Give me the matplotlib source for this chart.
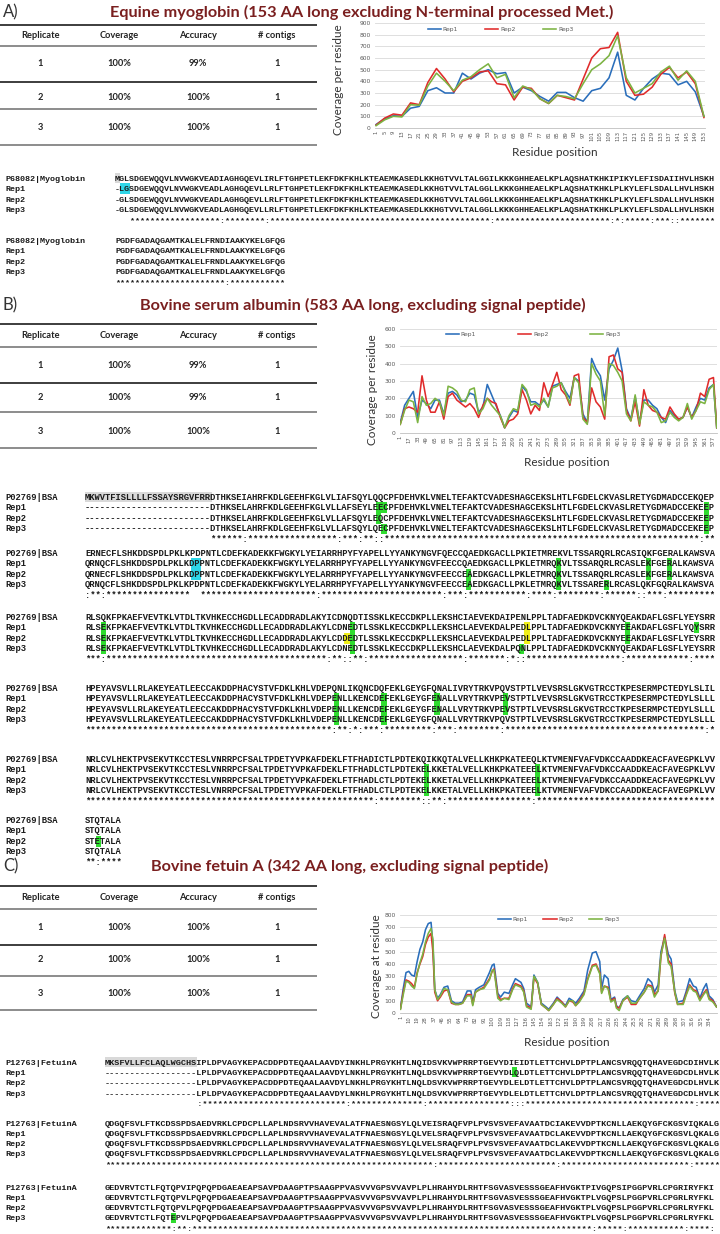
import matplotlib.pyplot as plt
from matplotlib.patches import Rectangle
import numpy as np

######### chart data
########################################
REPS = ["Rep1", "Rep2", "Rep3"]

# A) equine myoglobin coverage, sampled every 4 residues
mb_pos = list(range(1, 154, 4))
mb_rep1 = [30, 80, 105, 100, 170, 185, 320, 345, 300, 300,
           470, 420, 470, 500, 465, 475, 300, 350, 320, 270,
           230, 305, 305, 260, 230, 320, 340, 430, 650, 280,
           240, 340, 420, 470, 460, 370, 400, 310, 100]
mb_rep2 = [25, 85, 120, 110, 215, 200, 390, 510, 420, 310,
           400, 430, 480, 490, 380, 370, 240, 350, 340, 250,
           210, 280, 260, 240, 420, 600, 680, 690, 820, 400,
           280, 290, 350, 460, 520, 430, 480, 380, 90]
mb_rep3 = [20, 70, 100, 95, 200, 195, 360, 470, 400, 320,
           410, 440, 500, 550, 430, 460, 260, 360, 330, 250,
           210, 280, 270, 250, 380, 500, 550, 620, 790, 430,
           300, 340, 380, 480, 530, 410, 490, 400, 100]

# B) BSA coverage, sampled every 8 residues
bsa_pos = list(range(1, 578, 8)) + [583]
bsa_rep1 = [60, 160, 200, 240, 90, 190, 170, 140, 190, 190,
            110, 230, 240, 220, 180, 190, 230, 220, 120, 150,
            280, 220, 160, 100, 30, 90, 130, 120, 270, 240,
            180, 180, 160, 190, 150, 270, 280, 290, 240, 200,
            320, 300, 110, 60, 430, 370, 330, 190, 370, 420,
            490, 360, 140, 80, 210, 60, 190, 190, 160, 140,
            90, 60, 130, 100, 80, 90, 150, 90, 150, 200,
            190, 260, 280, 30]
bsa_rep2 = [50, 140, 150, 140, 120, 330, 190, 120, 120, 180,
            80, 210, 230, 190, 170, 150, 170, 140, 90, 160,
            200, 180, 170, 90, 30, 70, 80, 110, 250, 190,
            110, 160, 130, 290, 210, 280, 350, 250, 220, 160,
            330, 340, 90, 60, 260, 180, 150, 80, 440, 450,
            370, 350, 130, 70, 180, 40, 250, 160, 130, 120,
            90, 80, 150, 110, 80, 90, 150, 90, 130, 230,
            210, 310, 320, 30]
bsa_rep3 = [50, 130, 190, 180, 60, 210, 160, 170, 200, 180,
            100, 270, 260, 240, 190, 180, 250, 260, 110, 140,
            200, 160, 130, 100, 30, 100, 140, 130, 280, 250,
            160, 170, 150, 200, 150, 260, 270, 290, 230, 170,
            320, 290, 80, 50, 400, 340, 300, 100, 400, 390,
            350, 300, 110, 70, 220, 50, 180, 160, 150, 120,
            60, 70, 120, 90, 70, 90, 170, 80, 130, 180,
            170, 250, 280, 30]

# C) fetuin A coverage
fet_pos = [1, 4, 7, 10, 13, 16, 19, 22, 25, 28,
           31, 34, 36, 38, 41, 44, 48, 52, 56, 60,
           64, 68, 73, 77, 79, 82, 86, 91, 97, 100,
           102, 106, 109, 113, 118, 122, 125, 131, 134, 137,
           142, 145, 149, 153, 158, 161, 166, 170, 175, 179,
           183, 187, 190, 194, 199, 203, 208, 212, 216, 218,
           221, 225, 228, 232, 234, 237, 241, 246, 250, 255,
           259, 264, 268, 272, 275, 279, 282, 286, 290, 293,
           297, 300, 306, 309, 313, 317, 320, 324, 328, 331,
           334, 338, 342]
fet_rep1 = [40, 200, 330, 340, 310, 300, 420, 520, 580, 680,
            730, 740, 560, 190, 120, 150, 210, 220, 100, 80,
            80, 90, 180, 180, 90, 190, 210, 230, 330, 390,
            400, 160, 130, 170, 160, 230, 280, 250, 200, 80,
            50, 310, 250, 80, 50, 30, 80, 130, 90, 60,
            120, 100, 80, 120, 180, 350, 490, 500, 420, 200,
            310, 280, 110, 130, 60, 40, 110, 140, 100, 90,
            140, 200, 280, 250, 170, 230, 500, 620, 480, 440,
            180, 90, 100, 170, 280, 220, 210, 120, 200, 240,
            140, 110, 50]
fet_rep2 = [35, 170, 270, 260, 240, 210, 330, 400, 460, 560,
            620, 650, 500, 170, 100, 130, 180, 190, 80, 70,
            70, 80, 150, 150, 70, 170, 190, 210, 280, 340,
            360, 140, 110, 120, 120, 200, 240, 220, 180, 60,
            40, 290, 240, 70, 40, 20, 70, 120, 90, 50,
            100, 90, 60, 100, 160, 280, 390, 400, 330, 170,
            220, 210, 100, 120, 50, 40, 100, 130, 70, 70,
            120, 170, 230, 220, 150, 180, 460, 640, 430, 400,
            160, 70, 80, 150, 230, 190, 180, 110, 160, 190,
            120, 100, 50]
fet_rep3 = [30, 150, 260, 250, 220, 200, 320, 410, 480, 580,
            650, 690, 600, 190, 110, 140, 200, 190, 90, 70,
            70, 80, 140, 140, 60, 170, 190, 200, 270, 350,
            350, 120, 100, 120, 110, 190, 230, 210, 170, 50,
            30, 300, 250, 70, 40, 20, 70, 110, 80, 50,
            100, 100, 60, 90, 150, 270, 380, 390, 320, 160,
            220, 200, 90, 110, 40, 20, 100, 140, 80, 80,
            120, 170, 220, 210, 130, 180, 470, 610, 410, 380,
            170, 70, 70, 140, 220, 180, 170, 100, 150, 180,
            110, 90, 50]

######### table data
########################################
table_header = ["Replicate", "Coverage", "Accuracy", "# contigs"]
table_A = [["1", "100%", "99%", "1"], ["2", "100%", "100%", "1"], ["3", "100%", "100%", "1"]]
table_B = [["1", "100%", "99%", "1"], ["2", "100%", "99%", "1"], ["3", "100%", "100%", "1"]]
table_C = [["1", "100%", "100%", "1"], ["2", "100%", "100%", "1"], ["3", "100%", "100%", "1"]]

######### alignments (one list of 4 lines per block)
########################################
mb_names = ["P68082|Myoglobin", "Rep1", "Rep2", "Rep3"]
mb_blocks = [
    ["MGLSDGEWQQVLNVWGKVEADIAGHGQEVLIRLFTGHPETLEKFDKFKHLKTEAEMKASEDLKKHGTVVLTALGGILKKKGHHEAELKPLAQSHATKHKIPIKYLEFISDAIIHVLHSKH",
     "-LGSDGEWQQVLNVWGKVEADLAGHGQEVLLRLFTGHPETLEKFDKFKHLKTEAEMKASEDLKKHGTVVLTALGGLLKKKGHHEAELKPLAQSHATKHKLPLKYLEFLSDALLHVLHSKH",
     "-GLSDGEWQQVLNVWGKVEADLAGHGQEVLLRLFTGHPETLEKFDKFKHLKTEAEMKASEDLKKHGTVVLTALGGLLKKKGHHEAELKPLAQSHATKHKLPLKYLEFLSDALLHVLHSKH",
     "-GLSDGEWQQVLNVWGKVEADLAGHGQEVLLRLFTGHPETLEKFDKFKHLKTEAEMKASEDLKKHGTVVLTALGGLLKKKGHHEAELKPLAQSHATKHKLPLKYLEFLSDALLHVLHSKH"],
    ["PGDFGADAQGAMTKALELFRNDIAAKYKELGFQG",
     "PGDFGADAQGAMTKALELFRNDLAAKYKELGFQG",
     "PGDFGADAQGAMTKALELFRNDLAAKYKELGFQG",
     "PGDFGADAQGAMTKALELFRNDLAAKYKELGFQG"],
]
# (block, row, first column, n columns, colour key)
mb_marks = [(0, 0, 0, 1, "gray"), (0, 1, 1, 2, "cyan")]

bsa_names = ["P02769|BSA", "Rep1", "Rep2", "Rep3"]
bsa_gap = "------------------------"
bsa_b4 = "NRLCVLHEKTPVSEKVTKCCTESLVNRRPCFSALTPDETYVPKAFDEKLFTFHADLCTLPDTEKELKKETALVELLKHKPKATEEELKTVMENFVAFVDKCCAADDKEACFAVEGPKLVV"
bsa_b3 = "HPEYAVSVLLRLAKEYEATLEECCAKDDPHACYSTVFDKLKHLVDEPENLLKENCDEFEKLGEYGFENALLVRYTRKVPEVSTPTLVEVSRSLGKVGTRCCTKPESERMPCTEDYLSLLL"
bsa_blocks = [
    ["MKWVTFISLLLLFSSAYSRGVFRRDTHKSEIAHRFKDLGEEHFKGLVLIAFSQYLQQCPFDEHVKLVNELTEFAKTCVADESHAGCEKSLHTLFGDELCKVASLRETYGDMADCCEKQEP",
     bsa_gap + "DTHKSELAHRFKDLGEEHFKGLVLLAFSEYLEECPFDEHVKLVNELTEFAKTCVADESHAGCEKSLHTLFGDELCKVASLRETYGDMADCCEKEEP",
     bsa_gap + "DTHKSELAHRFKDLGEEHFKGLVLLAFSQYLEQCPFDEHVKLVNELTEFAKTCVADESHAGCEKSLHTLFGDELCKVASLRETYGDMADCCEKEEP",
     bsa_gap + "DTHKSELAHRFKDLGEEHFKGLVLLAFSQYLQECPFDEHVKLVNELTEFAKTCVADESHAGCEKSLHTLFGDELCKVASLRETYGDMADCCEKEEP"],
    ["ERNECFLSHKDDSPDLPKLKPDPNTLCDEFKADEKKFWGKYLYEIARRHPYFYAPELLYYANKYNGVFQECCQAEDKGACLLPKIETMREKVLTSSARQRLRCASIQKFGERALKAWSVA",
     "QRNQCFLSHKDDSPDLPKLKDPPNTLCDEFKADEKKFWGKYLYELARRHPYFYAPELLYYANKYNGVFEECCQAEDKGACLLPKLETMRQKVLTSSARQRLRCASLEKFGERALKAWSVA",
     "QRNECFLSHKDDSPDLPKLKDPPNTLCDEFKADEKKFWGKYLYELARRHPYFYAPELLYYANKYNGVFEECCEAEDKGACLLPKLETMRQKVLTSSARQRLRCASLEKFGERALKAWSVA",
     "QRNQCFLSHKDDSPDLPKLKPDPNTLCDEFKADEKKFWGKYLYELARRHPYFYAPELLYYANKYNGVFEECCEAEDKGACLLPKLETMRQKVLTSSARERLRCASLQKFGQRALKAWSVA"],
    ["RLSQKFPKAEFVEVTKLVTDLTKVHKECCHGDLLECADDRADLAKYICDNQDTISSKLKECCDKPLLEKSHCIAEVEKDAIPENLPPLTADFAEDKDVCKNYQEAKDAFLGSFLYEYSRR",
     "RLSEKFPKAEFVEVTKLVTDLTKVHKECCHGDLLECADDRADLAKYLCDNEDTLSSKLKECCDKPLLEKSHCLAEVEKDALPEDLPPLTADFAEDKDVCKNYEEAKDAFLGSFLYQYSRR",
     "RLSEKFPKAEFVEVTKLVTDLTKVHKECCHGDLLECADDRADLAKYLCDDEDTLSSKLKECCDKPLLEKSHCLAEVEKDALPEDLPPLTADFAEDKDVCKNYEEAKDAFLGSFLYEYSRR",
     "RLSEKFPKAEFVEVTKLVTDLTKVHKECCHGDLLECADDRADLAKYLCDNEDTLSSKLKECCDKPLLEKSHCLAEVEKDALPQNLPPLTADFAEDKDVCKNYQEAKDAFLGSFLYEYSRR"],
    ["HPEYAVSVLLRLAKEYEATLEECCAKDDPHACYSTVFDKLKHLVDEPQNLIKQNCDQFEKLGEYGFQNALIVRYTRKVPQVSTPTLVEVSRSLGKVGTRCCTKPESERMPCTEDYLSLIL",
     bsa_b3,
     bsa_b3,
     "HPEYAVSVLLRLAKEYEATLEECCAKDDPHACYSTVFDKLKHLVDEPENLLKENCDEFEKLGEYGFQNALLVRYTRKVPQVSTPTLVEVSRSLGKVGTRCCTKPESERMPCTEDYLSLLL"],
    ["NRLCVLHEKTPVSEKVTKCCTESLVNRRPCFSALTPDETYVPKAFDEKLFTFHADICTLPDTEKQIKKQTALVELLKHKPKATEEQLKTVMENFVAFVDKCCAADDKEACFAVEGPKLVV",
     bsa_b4, bsa_b4, bsa_b4],
    ["STQTALA", "STQTALA", "STETALA", "STQTALA"],
]
bsa_marks = [(0, 0, 0, 24, "gray"), (0, 1, 55, 2, "green"), (0, 2, 55, 1, "green"), (0, 3, 56, 1, "green"),
             (0, 1, 117, 1, "green"), (0, 2, 117, 1, "green"), (0, 3, 117, 1, "green"),
             (1, 1, 20, 2, "cyan"), (1, 2, 20, 2, "cyan"), (1, 2, 72, 1, "green"), (1, 3, 72, 1, "green"),
             (1, 1, 89, 1, "green"), (1, 2, 89, 1, "green"), (1, 3, 89, 1, "green"), (1, 3, 98, 1, "green"),
             (1, 1, 106, 1, "green"), (1, 2, 106, 1, "green"), (1, 1, 110, 1, "green"), (1, 2, 110, 1, "green"),
             (2, 1, 3, 1, "green"), (2, 2, 3, 1, "green"), (2, 3, 3, 1, "green"),
             (2, 1, 50, 1, "green"), (2, 2, 49, 1, "yellow"), (2, 2, 50, 1, "green"), (2, 3, 50, 1, "green"),
             (2, 1, 83, 1, "yellow"), (2, 2, 83, 1, "yellow"), (2, 3, 82, 1, "green"),
             (2, 1, 102, 1, "green"), (2, 2, 102, 1, "green"), (2, 1, 115, 1, "green"),
             (3, 1, 47, 1, "green"), (3, 2, 47, 1, "green"), (3, 3, 47, 1, "green"),
             (3, 1, 56, 1, "green"), (3, 2, 56, 1, "green"), (3, 3, 56, 1, "green"),
             (3, 1, 66, 1, "green"), (3, 2, 66, 1, "green"), (3, 1, 79, 1, "green"), (3, 2, 79, 1, "green"),
             (4, 1, 64, 1, "green"), (4, 2, 64, 1, "green"), (4, 3, 64, 1, "green"),
             (4, 1, 85, 1, "green"), (4, 2, 85, 1, "green"), (4, 3, 85, 1, "green"),
             (5, 2, 2, 1, "green")]

fet_names = ["P12763|FetuinA", "Rep1", "Rep2", "Rep3"]
fet_gap = "------------------"
fet_b1 = "QDGQFSVLFTKCDSSPDSAEDVRKLCPDCPLLAPLNDSRVVHAVEVALATFNAESNGSYLQLVELSRAQFVPLPVSVSVEFAVAATDCLAKEVVDPTKCNLLAEKQYGFCKGSVLQKALG"
fet_b2 = "GEDVRVTCTLFQTQPVLPQPQPDGAEAEAPSAVPDAAGPTPSAAGPPVASVVVGPSVVAVPLPLHRAHYDLRHTFSGVASVESSSGEAFHVGKTPLVGQPSLPGGPVRLCPGRLRYFKL"
fet_blocks = [
    ["MKSFVLLFCLAQLWGCHSIPLDPVAGYKEPACDDPDTEQAALAAVDYINKHLPRGYKHTLNQIDSVKVWPRRPTGEVYDIEIDTLETTCHVLDPTPLANCSVRQQTQHAVEGDCDIHVLK",
     fet_gap + "LPLDPVAGYKEPACDDPDTEQAALAAVDYLNKHLPRGYKHTLNQLDSVKVWPRRPTGEVYDLQLDTLETTCHVLDPTPLANCSVRQQTQHAVEGDCDLHVLK",
     fet_gap + "LPLDPVAGYKEPACDDPDTEQAALAAVDYLNKHLPRGYKHTLNQLDSVKVWPRRPTGEVYDLELDTLETTCHVLDPTPLANCSVRQQTQHAVEGDCDLHVLK",
     fet_gap + "LPLDPVAGYKEPACDDPDTEQAALAAVDYLNKHLPRGYKHTLNQLDSVKVWPRRPTGEVYDLELDTLETTCHVLDPTPLANCSVRQQTQHAVEGDCDLHVLK"],
    ["QDGQFSVLFTKCDSSPDSAEDVRKLCPDCPLLAPLNDSRVVHAVEVALATFNAESNGSYLQLVEISRAQFVPLPVSVSVEFAVAATDCIAKEVVDPTKCNLLAEKQYGFCKGSVIQKALG",
     fet_b1, fet_b1, fet_b1],
    ["GEDVRVTCTLFQTQPVIPQPQPDGAEAEAPSAVPDAAGPTPSAAGPPVASVVVGPSVVAVPLPLHRAHYDLRHTFSGVASVESSSGEAFHVGKTPIVGQPSIPGGPVRLCPGRIRYFKI",
     fet_b2, fet_b2,
     "GEDVRVTCTLFQTEPVLPQPQPDGAEAEAPSAVPDAAGPTPSAAGPPVASVVVGPSVVAVPLPLHRAHYDLRHTFSGVASVESSSGEAFHVGKTPLVGQPSLPGGPVRLCPGRLRYFKL"],
]
fet_marks = [(0, 0, 0, 18, "gray"), (0, 1, 80, 1, "green"), (2, 3, 13, 1, "green")]

######### style
########################################
W, H = 720, 1234
TITLE_COL = "#7a1f1f"
REP_COLORS = ["#2a6ebb", "#e02b2b", "#7cb342"]
MARK_COLORS = {"gray": "#d9d9d9", "cyan": "#2ed6e8", "green": "#2fdc2f", "yellow": "#f0ef1a"}
AXIS_TXT = "#595959"

fig = plt.figure(figsize=(7.2, 12.34), dpi=100)
ax0 = fig.add_axes([0, 0, 1, 1])
ax0.set_xlim(0, W)
ax0.set_ylim(H, 0)
ax0.axis("off")


def px_axes(left, top, right, bottom):
    return fig.add_axes([left / W, 1 - bottom / H, (right - left) / W, (bottom - top) / H])


#############################################
def panel_title(letter, title, y, xc):
    ax0.text(3, y, letter, fontsize=12, family="Lato", color="#333333", va="center", ha="left")
    ax0.text(xc, y, title, fontsize=11.7, family="Lato", weight="bold", color=TITLE_COL,
             va="center", ha="center")


#############################################
def draw_table(rows, line_y, text_y):
    cols_x = [40, 119, 198, 277]
    for i, y in enumerate(line_y):
        col = "#3d3d3d" if i in (0, 2) else "#8c8c8c"
        ax0.plot([0, 317], [y, y], color=col, lw=1.4, solid_capstyle="butt")
    for x, h in zip(cols_x, table_header):
        ax0.text(x, text_y[0], h, fontsize=6.7, family="Lato", weight="bold", color="#222222",
                 ha="center", va="center")
    for r, y in zip(rows, text_y[1:]):
        for x, v in zip(cols_x, r):
            ax0.text(x, y, v, fontsize=6.7, family="Lato", weight="bold", color="#222222",
                     ha="center", va="center")


#############################################
STRONG = ["STA", "NEQK", "NHQK", "NDEQ", "QHRK", "MILV", "MILF", "HY", "FYW"]
WEAK = ["CSA", "ATV", "SAG", "STNK", "STPA", "SGND", "SNDEQK", "NDEQHK", "NEQHRK", "FVLIM", "HFY"]


def conservation(seqs):
    out = []
    for col in zip(*seqs):
        s = set(col)
        if "-" in s:
            out.append(" ")
        elif len(s) == 1:
            out.append("*")
        elif any(s <= set(g) for g in STRONG):
            out.append(":")
        elif any(s <= set(g) for g in WEAK):
            out.append(".")
        else:
            out.append(" ")
    return "".join(out)


def draw_alignment(blocks, names, marks, block_y, x_seq, fs, dy):
    cw = fs * 100 / 72 * 0.6
    for (b, r, c, n, key) in marks:
        y = block_y[b] + r * dy
        ax0.add_patch(Rectangle((x_seq + c * cw, y - dy / 2), n * cw, dy,
                                color=MARK_COLORS[key], lw=0, zorder=1))
    for b, rows in enumerate(blocks):
        lines = rows + [conservation(rows)]
        for r, s in enumerate(lines):
            y = block_y[b] + r * dy
            if r < 4:
                ax0.text(5, y + 2.6, names[r], family="Liberation Mono", weight="bold",
                         fontsize=fs, color="#1a1a1a", va="baseline", zorder=2)
            ax0.text(x_seq, y + 2.6, s, family="Liberation Mono", weight="bold",
                     fontsize=fs, color="#1a1a1a", va="baseline", zorder=2)


#############################################
def coverage_chart(box, pos, series, ymax, ystep, ticks, n_res, leg_xy, leg_gap,
                   ylabel, ylab_xy, xlab_xy):
    ax = px_axes(*box)
    for vals, c, name in zip(series, REP_COLORS, REPS):
        ax.plot(pos, vals, color=c, lw=1.15, label=name)
    ax.set_ylim(0, ymax)
    ax.set_yticks(np.arange(0, ymax + 1, ystep))
    ax.set_xlim(0.5, n_res + 0.5)
    ax.set_xticks(ticks)
    ax.set_xticklabels([str(t) for t in ticks], rotation=90, fontsize=3.8, color=AXIS_TXT)
    ax.tick_params(axis="y", labelsize=4.3, labelcolor=AXIS_TXT, length=0, pad=3)
    ax.tick_params(axis="x", length=0, pad=2)
    ax.grid(axis="y", color="#d9d9d9", lw=0.6)
    ax.set_axisbelow(True)
    for sp in ["left", "right", "top"]:
        ax.spines[sp].set_visible(False)
    ax.spines["bottom"].set_color("#bfbfbf")
    ax.spines["bottom"].set_linewidth(0.6)
    leg = ax.legend(loc="center", bbox_to_anchor=leg_xy, ncol=3, frameon=False, fontsize=4.3,
                    handlelength=2.2, handletextpad=0.3, columnspacing=leg_gap)
    for t in leg.get_texts():
        t.set_color(AXIS_TXT)
    ax0.text(ylab_xy[0], ylab_xy[1], ylabel, rotation=90, fontsize=8.5, family="Lato",
             color="#333333", ha="center", va="center")
    ax0.text(xlab_xy[0], xlab_xy[1], "Residue position", fontsize=8.5, family="Lato",
             color="#333333", ha="center", va="center")
    return ax


######### panel A
panel_title("A)", "Equine myoglobin (153 AA long excluding N-terminal processed Met.)", 12, 362)
draw_table(table_A, [25, 46, 82, 109, 145], [36, 64, 97, 128])
coverage_chart((375, 23, 705, 128), mb_pos, [mb_rep1, mb_rep2, mb_rep3], 900, 100,
               list(range(1, 154, 4)), 153, (0.38, 0.94), 4.6,
               "Coverage per residue", (338, 80), (555, 152))
draw_alignment(mb_blocks, mb_names, mb_marks, [178, 240], 115, 6.0, 10.5)

######### panel B
panel_title("B)", "Bovine serum albumin (583 AA long, excluding signal peptide)", 305, 363)
draw_table(table_B, [324, 347, 383, 412, 448], [336, 365, 398, 431])
coverage_chart((400, 329, 717, 433), bsa_pos, [bsa_rep1, bsa_rep2, bsa_rep3], 600, 100,
               list(range(1, 578, 16)), 583, (0.42, 0.95), 7.0,
               "Coverage per residue", (372, 390), (567, 462))
draw_alignment(bsa_blocks, bsa_names, bsa_marks, [497, 553, 617, 688, 759, 820], 85, 6.35, 10.6)

######### panel C
panel_title("C)", "Bovine fetuin A (342 AA long, excluding signal peptide)", 866, 350)
draw_table(table_C, [886, 909, 945, 976, 1010], [898, 928, 960, 993])
coverage_chart((400, 915, 717, 1013), fet_pos, [fet_rep1, fet_rep2, fet_rep3], 800, 100,
               list(range(1, 335, 9)), 342, (0.5, 0.95), 2.6,
               "Coverage at residue", (377, 966), (567, 1043))
draw_alignment(fet_blocks, fet_names, fet_marks, [1062, 1123, 1187], 105, 6.1, 10.3)

fig.savefig("out.png", dpi=100)
